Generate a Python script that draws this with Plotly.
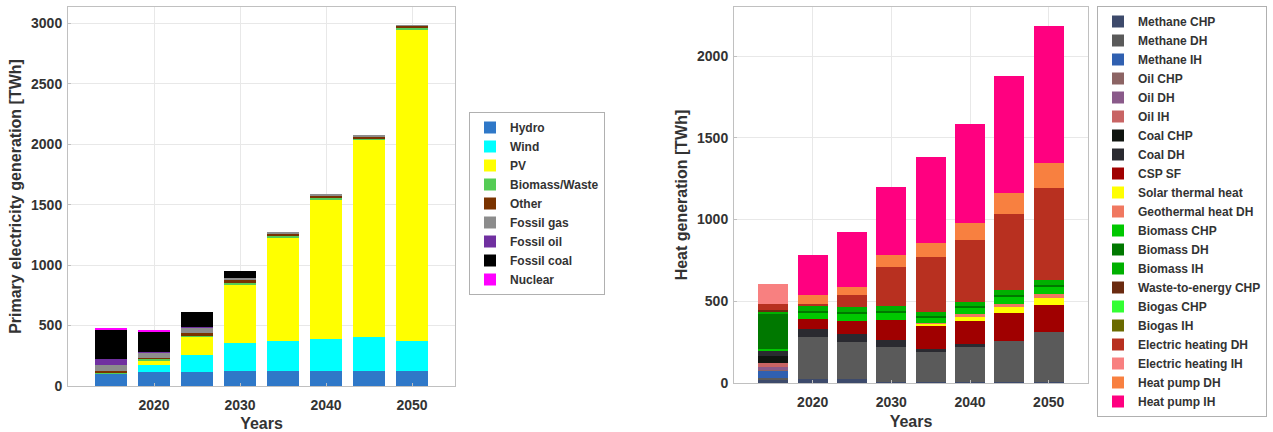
import plotly.graph_objects as go

years = [2015, 2020, 2025, 2030, 2035, 2040, 2045, 2050]

# Left chart: primary electricity generation [TWh]
elec_names = ["Hydro", "Wind", "PV", "Biomass/Waste", "Other", "Fossil gas", "Fossil oil", "Fossil coal", "Nuclear"]
hydro = [100, 118, 118, 122, 122, 122, 122, 122]
wind = [5, 56, 138, 236, 250, 264, 286, 250]
pv = [0, 40, 150, 483, 855, 1158, 1627, 2578]
biomass_waste = [10, 10, 10, 10, 10, 10, 10, 10]
other = [5, 5, 20, 25, 25, 25, 22, 18]
fossil_gas = [55, 45, 50, 20, 6, 6, 6, 5]
fossil_oil = [45, 5, 3, 0, 0, 0, 0, 0]
fossil_coal = [245, 170, 124, 55, 0, 0, 0, 0]
nuclear = [12, 10, 0, 0, 0, 0, 0, 0]
elec_values = [hydro, wind, pv, biomass_waste, other, fossil_gas, fossil_oil, fossil_coal, nuclear]
elec_colors = ["#2f78c8", "#00ffff", "#ffff00", "#55cc55", "#7a3300", "#8c8c8c", "#7030a0", "#000000", "#ff00ff"]

# Right chart: heat generation [TWh]
heat_names = ["Methane CHP", "Methane DH", "Methane IH", "Oil CHP", "Oil DH", "Oil IH", "Coal CHP", "Coal DH",
              "CSP SF", "Solar thermal heat", "Geothermal heat DH", "Biomass CHP", "Biomass DH", "Biomass IH",
              "Waste-to-energy CHP", "Biogas CHP", "Biogas IH", "Electric heating DH", "Electric heating IH",
              "Heat pump DH", "Heat pump IH"]
methane_chp = [20, 25, 25, 5, 5, 5, 5, 5]
methane_dh = [10, 255, 225, 215, 185, 215, 255, 307]
methane_ih = [45, 0, 0, 0, 0, 0, 0, 0]
oil_chp = [10, 0, 0, 0, 0, 0, 0, 0]
oil_dh = [10, 0, 0, 0, 0, 0, 0, 0]
oil_ih = [30, 0, 0, 0, 0, 0, 0, 0]
coal_chp = [40, 0, 0, 0, 0, 0, 0, 0]
coal_dh = [35, 50, 50, 45, 20, 20, 0, 0]
csp_sf = [0, 60, 82, 119, 143, 139, 168, 164]
solar_thermal = [0, 0, 0, 0, 8, 25, 35, 45]
geothermal_dh = [0, 0, 0, 0, 6, 19, 22, 26]
biomass_chp = [10, 40, 45, 45, 35, 40, 45, 45]
biomass_dh = [210, 10, 10, 10, 8, 8, 8, 8]
biomass_ih = [15, 32, 30, 30, 25, 24, 32, 33]
waste_chp = [10, 0, 0, 0, 0, 0, 0, 0]
biogas_chp = [0, 0, 0, 0, 0, 0, 0, 0]
biogas_ih = [0, 0, 0, 0, 0, 0, 0, 0]
elec_heat_dh = [40, 10, 74, 241, 336, 382, 466, 557]
elec_heat_ih = [122, 0, 0, 0, 0, 0, 0, 0]
heat_pump_dh = [0, 55, 49, 72, 86, 102, 126, 157]
heat_pump_ih = [0, 245, 332, 414, 527, 608, 715, 837]
heat_values = [methane_chp, methane_dh, methane_ih, oil_chp, oil_dh, oil_ih, coal_chp, coal_dh, csp_sf,
               solar_thermal, geothermal_dh, biomass_chp, biomass_dh, biomass_ih, waste_chp, biogas_chp,
               biogas_ih, elec_heat_dh, elec_heat_ih, heat_pump_dh, heat_pump_ih]
heat_colors = ["#3d4a6b", "#5a5a5a", "#3060b0", "#8c6464", "#8a5a8a", "#c86464", "#101510", "#2a2a30",
               "#a00000", "#ffff00", "#f07860", "#00c800", "#007800", "#00b000", "#6a2a10", "#33ff33",
               "#6a6a00", "#b83020", "#f88080", "#f88040", "#ff0080"]

fig = go.Figure()
for name, vals, col in zip(elec_names, elec_values, elec_colors):
    fig.add_trace(go.Bar(x=years, y=vals, name=name, marker=dict(color=col, line=dict(width=0)),
                         width=3.8, xaxis="x", yaxis="y", legend="legend"))
for name, vals, col in zip(heat_names, heat_values, heat_colors):
    fig.add_trace(go.Bar(x=years, y=vals, name=name, marker=dict(color=col, line=dict(width=0)),
                         width=3.8, xaxis="x2", yaxis="y2", legend="legend2"))

W, H = 1273, 432
FAM = "Liberation Sans, Arial"
tickfont = dict(family=FAM, size=14, color="#333333", weight="bold")
titlefont = dict(family=FAM, size=16, color="#333333", weight="bold")
legfont = dict(family=FAM, size=12, color="#333333", weight="bold")
axis_common = dict(showgrid=True, gridcolor="#e8e8e8", gridwidth=1, showline=True, linecolor="#c0c0c0",
                   linewidth=1, mirror=True, ticks="inside", ticklen=3, tickcolor="#c0c0c0",
                   tickfont=tickfont, zeroline=False)
xaxis_common = dict(axis_common, ticklabelstandoff=6)
yaxis_common = dict(axis_common, ticklabelstandoff=2)

fig.update_layout(
    width=W, height=H, barmode="stack", bargap=0,
    margin=dict(l=0, r=0, t=0, b=0, autoexpand=False),
    paper_bgcolor="white", plot_bgcolor="white",
    xaxis=dict(domain=[68 / W, 455 / W], range=[2010, 2055], tickvals=[2020, 2030, 2040, 2050],
               title=dict(text="Years", font=titlefont, standoff=7), anchor="y", **xaxis_common),
    yaxis=dict(domain=[1 - 386 / H, 1 - 7 / H], range=[0, 3135], tickvals=[0, 500, 1000, 1500, 2000, 2500, 3000],
               title=dict(text="Primary electricity generation [TWh]", font=titlefont, standoff=5),
               anchor="x", **yaxis_common),
    xaxis2=dict(domain=[734 / W, 1088 / W], range=[2010, 2055], tickvals=[2020, 2030, 2040, 2050],
                title=dict(text="Years", font=titlefont, standoff=7), anchor="y2", **xaxis_common),
    yaxis2=dict(domain=[1 - 383 / H, 1 - 7 / H], range=[0, 2300], tickvals=[0, 500, 1000, 1500, 2000],
                title=dict(text="Heat generation [TWh]", font=titlefont, standoff=5),
                anchor="x2", **yaxis_common),
    legend=dict(x=469 / W, y=1 - 112 / H, xanchor="left", yanchor="top", traceorder="normal",
                bgcolor="white", bordercolor="#b0b0b0", borderwidth=1, font=legfont, tracegroupgap=0),
    legend2=dict(x=1097 / W, y=1 - 6 / H, xanchor="left", yanchor="top", traceorder="normal",
                 bgcolor="white", bordercolor="#b0b0b0", borderwidth=1, font=legfont, tracegroupgap=0),
    showlegend=True,
)

fig.write_html("out.html", config={"displayModeBar": False},
               post_script="document.body.style.margin='0';document.body.style.overflow='hidden';")
